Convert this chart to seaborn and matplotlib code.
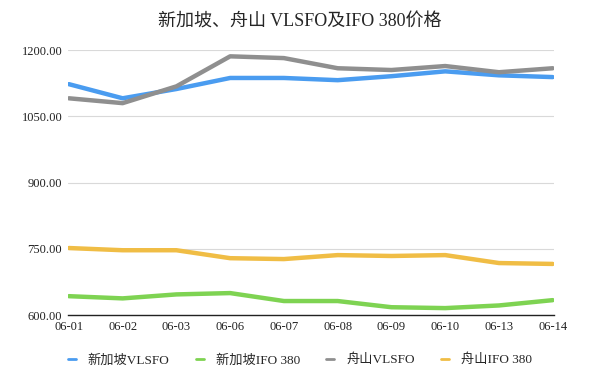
import pandas as pd
import matplotlib.pyplot as plt
import seaborn as sns

dates = ["06-01", "06-02", "06-03", "06-06", "06-07", "06-08", "06-09", "06-10", "06-13", "06-14"]
sg_vlsfo = [1123, 1091, 1112, 1137, 1137, 1132, 1141, 1152, 1143, 1139]
sg_ifo380 = [643, 638, 647, 650, 632, 632, 618, 616, 622, 634]
zs_vlsfo = [1091, 1080, 1118, 1186, 1182, 1159, 1155, 1164, 1150, 1159]
zs_ifo380 = [752, 747, 747, 729, 727, 736, 734, 736, 718, 716]
series_names = ["新加坡VLSFO", "新加坡IFO 380", "舟山VLSFO", "舟山IFO 380"]
yticks = [600, 750, 900, 1050, 1200]

df = pd.DataFrame({"date": dates,
                   series_names[0]: sg_vlsfo,
                   series_names[1]: sg_ifo380,
                   series_names[2]: zs_vlsfo,
                   series_names[3]: zs_ifo380})
long = df.melt(id_vars="date", var_name="series", value_name="price")

sns.set_theme(style="white")
plt.rcParams['font.family'] = ['Liberation Serif', 'Noto Sans CJK SC']

palette = {series_names[0]: "#4a9cf0", series_names[1]: "#7ed352",
           series_names[2]: "#8f8f8f", series_names[3]: "#f0bd45"}

fig = plt.figure(figsize=(6, 3.77), dpi=100)
ax = fig.add_axes([0.113, 0.164, 0.81, 0.703])
sns.lineplot(data=long, x="date", y="price", hue="series", palette=palette,
             hue_order=series_names, sort=False, linewidth=3.2, ax=ax)

ax.set_ylim(600, 1200)
ax.set_xlim(-0.02, len(dates) - 1 + 0.02)
ax.set_yticks(yticks)
ax.set_yticklabels([f"{v:.2f}" for v in yticks])
ax.set_xlabel("")
ax.set_ylabel("")
ax.grid(axis="y", color="#d9d9d9", linewidth=0.8)
ax.set_axisbelow(True)
for s in ["top", "right", "left"]:
    ax.spines[s].set_visible(False)
ax.spines["bottom"].set_color("#222222")
ax.spines["bottom"].set_linewidth(1)
ax.tick_params(axis="both", labelsize=9, colors="#222222", length=0, pad=4)

fig.suptitle("新加坡、舟山 VLSFO及IFO 380价格", fontsize=13, x=0.5, y=0.965)

handles, labels = ax.get_legend_handles_labels()
ax.get_legend().remove()
for h in handles:
    h.set_linewidth(2)
fig.legend(handles, labels, loc="center", bbox_to_anchor=(0.5, 0.045),
           ncol=4, frameon=False, fontsize=9.5, handlelength=0.6,
           columnspacing=2.0, handletextpad=0.9)

fig.savefig("out.png", dpi=100)
